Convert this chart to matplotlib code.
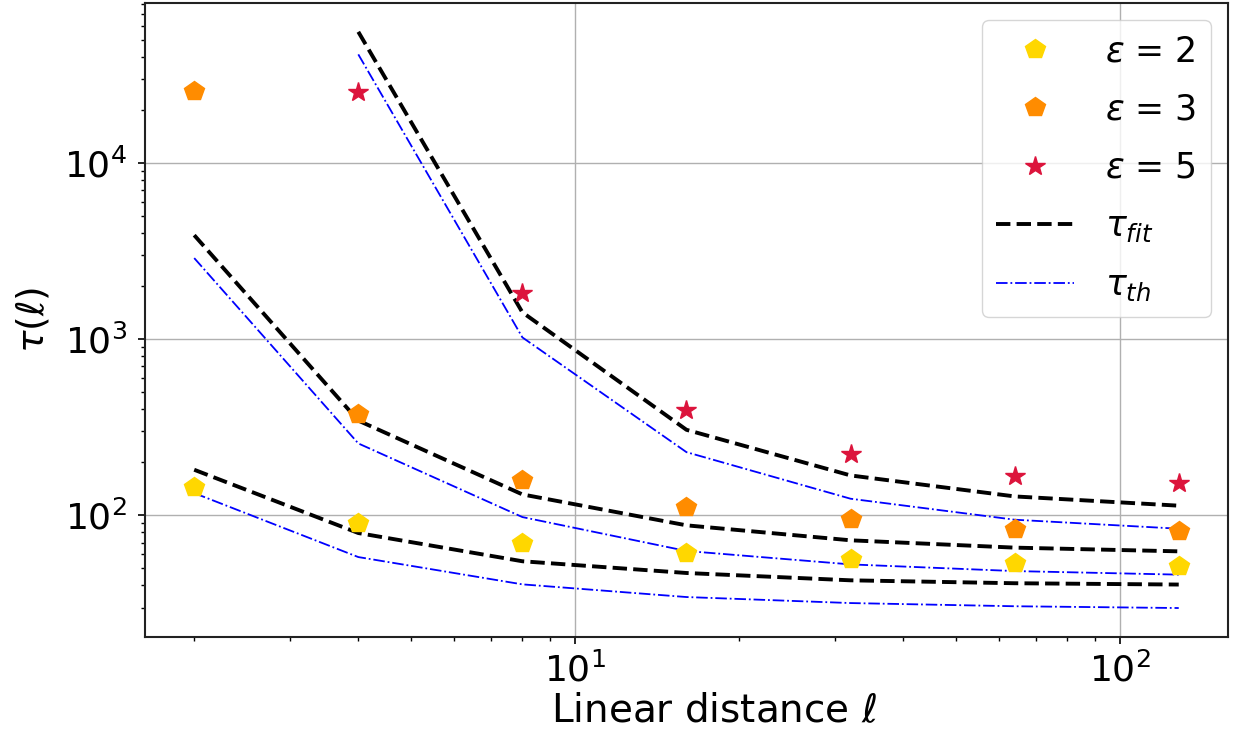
import matplotlib
matplotlib.use("Agg")
import matplotlib.pyplot as plt

plt.rcParams['mathtext.fontset'] = 'dejavusans'
plt.rcParams['font.family'] = ['DejaVu Sans']

L = [2, 4, 8, 16, 32, 64, 128]
L5 = [4, 8, 16, 32, 64, 128]

eps2_data = [144, 90.4, 69.7, 60.9, 56.3, 53.5, 51.6]
eps2_fit = [181.5, 79.4, 54.9, 47.1, 42.8, 41.2, 40.5]
eps2_th = [133.8, 58.0, 40.6, 34.4, 31.8, 30.5, 29.8]

eps3_data = [25590, 378, 158, 111.4, 94.9, 83.3, 81.5]
eps3_fit = [3890, 345, 131.5, 87.8, 72.2, 65.6, 62.5]
eps3_th = [2884, 256, 97.8, 62.8, 52.7, 48.3, 46.1]

eps5_data = [25350, 1817, 397, 223.7, 166.3, 152.4]
eps5_fit = [55460, 1419, 305.9, 168.5, 128.1, 113.5]
eps5_th = [41300, 1023, 228.4, 124.3, 94.5, 84.0]

fig = plt.figure(figsize=(12.35, 7.32), dpi=100)
ax = fig.add_axes([0.1174, 0.130, 0.8769, 0.8659])

fit_kw = dict(ls='--', color='black', lw=2.8, zorder=2)
th_kw = dict(ls='-.', color='blue', lw=1.3, zorder=2)
ax.plot(L, eps2_fit, label=r'$\tau_{fit}$', **fit_kw)
ax.plot(L, eps3_fit, **fit_kw)
ax.plot(L5, eps5_fit, **fit_kw)
ax.plot(L, eps2_th, label=r'$\tau_{th}$', **th_kw)
ax.plot(L, eps3_th, **th_kw)
ax.plot(L5, eps5_th, **th_kw)

ax.plot(L, eps2_data, 'p', color='gold', ms=15, ls='none', label=r'$\varepsilon$ = 2', zorder=3)
ax.plot(L, eps3_data, 'p', color='darkorange', ms=15, ls='none', label=r'$\varepsilon$ = 3', zorder=3)
ax.plot(L5, eps5_data, '*', color='crimson', ms=15, ls='none', label=r'$\varepsilon$ = 5', zorder=3)

ax.set_xscale('log')
ax.set_yscale('log')
ax.grid(True, which='major', color='#b0b0b0', lw=1)
for s in ax.spines.values():
    s.set_linewidth(1.5)
    s.set_color('#222222')
ax.tick_params(axis='both', which='major', labelsize=26, length=5, width=1.2)
ax.tick_params(axis='both', which='minor', length=3, width=1.0)
ax.tick_params(axis='y', which='major', pad=8)
ax.tick_params(axis='x', which='major', pad=6)

ax.set_xlabel(r'Linear distance $\ell$', fontsize=28)
ax.xaxis.set_label_coords(0.525, -0.088)
ax.set_ylabel(r'$\tau(\ell)$', fontsize=27)
ax.yaxis.set_label_coords(-0.086, 0.5)

h, l = ax.get_legend_handles_labels()
order = [2, 3, 4, 0, 1]
ax.legend([h[i] for i in order], [l[i] for i in order], loc='upper right',
          fontsize=25, handlelength=2.25, handletextpad=0.9, labelspacing=0.7,
          borderaxespad=0.5)

fig.savefig('out.png', dpi=100)
